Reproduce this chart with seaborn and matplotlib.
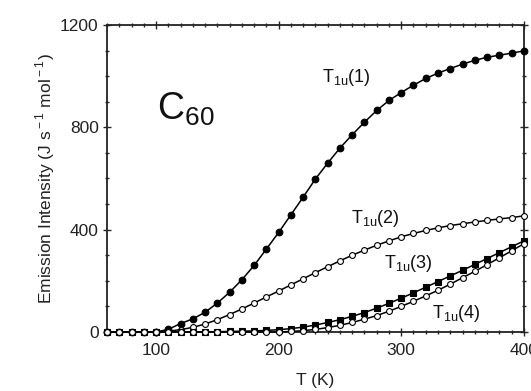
import numpy as np
import pandas as pd
import matplotlib
matplotlib.use('Agg')
import matplotlib.pyplot as plt
import seaborn as sns
from matplotlib.ticker import MultipleLocator

# temperature grid (K)
temps = list(range(60, 410, 10))

# emission intensity (J s^-1 mol^-1)
t1u_1 = [0, 0, 0, 0, 0, 10, 33, 51, 77, 113, 155, 204, 260, 324, 389, 458, 527, 598,
         660, 719, 771, 820, 866, 905, 936, 965, 991, 1012, 1030, 1047, 1062, 1074,
         1082, 1090, 1099]
t1u_2 = [0, 0, 0, 0, 0, 3, 9, 18, 31, 48, 68, 90, 113, 137, 160, 184, 208, 232,
         255, 278, 300, 320, 339, 356, 372, 385, 397, 407, 416, 423, 430, 436, 442,
         447, 454]
t1u_3 = [0, 0, 0, 0, 0, 0, 0, 0, 1, 1, 2, 3, 4, 6, 9, 13, 19, 27, 37, 48, 61, 76,
         93, 112, 132, 153, 175, 197, 219, 241, 264, 287, 310, 333, 356]
t1u_4 = [0, 0, 0, 0, 0, 0, 0, 0, 0, 0, 0, 0, 0, 0, 0, 2, 5, 10, 17, 26, 37, 50, 64,
         81, 100, 120, 141, 163, 187, 212, 237, 263, 290, 317, 345]

series_names = ['T1u(1)', 'T1u(2)', 'T1u(3)', 'T1u(4)']
series_labels = [r'T$_{\rm 1u}$(1)', r'T$_{\rm 1u}$(2)', r'T$_{\rm 1u}$(3)', r'T$_{\rm 1u}$(4)']
label_x = [235, 259, 286, 325]
label_y = [995, 444, 268, 72]

sns.set_style('ticks')
plt.rcParams['font.family'] = ['Liberation Sans', 'DejaVu Sans']
plt.rcParams['mathtext.fontset'] = 'custom'
plt.rcParams['mathtext.rm'] = 'Liberation Sans'

df = pd.DataFrame({'T': temps, 'T1u(1)': t1u_1, 'T1u(2)': t1u_2,
                   'T1u(3)': t1u_3, 'T1u(4)': t1u_4})

fig = plt.figure(figsize=(5.31, 3.91), dpi=100)
ax = fig.add_axes([0.2015, 0.151, 0.785, 0.785])

styles = {
    'T1u(1)': dict(marker='o', markersize=4.8, markerfacecolor='black'),
    'T1u(2)': dict(marker='o', markersize=4.2, markerfacecolor='white'),
    'T1u(3)': dict(marker='s', markersize=4.2, markerfacecolor='black'),
    'T1u(4)': dict(marker='o', markersize=4.2, markerfacecolor='white'),
}
for name in series_names:
    sns.lineplot(data=df, x='T', y=name, ax=ax, color='black', linewidth=1.1,
                 markeredgecolor='black', markeredgewidth=0.8, clip_on=False,
                 zorder=3, **styles[name])

for lab, lx, ly in zip(series_labels, label_x, label_y):
    ax.text(lx, ly, lab, fontsize=13, va='center', ha='left', color='#111')

ax.text(101, 870, r'C$_{\rm 60}$', fontsize=27, va='center', ha='left', color='#111')

ax.set_xlim(60, 400)
ax.set_ylim(0, 1200)
ax.xaxis.set_major_locator(MultipleLocator(100))
ax.xaxis.set_minor_locator(MultipleLocator(10))
ax.yaxis.set_major_locator(MultipleLocator(400))
ax.yaxis.set_minor_locator(MultipleLocator(100))
ax.tick_params(which='both', direction='inout', top=True, right=True,
               labelsize=12.5, labelcolor='#222', width=1)
ax.tick_params(which='major', length=6, pad=3)
ax.tick_params(axis='x', which='major', pad=5)
ax.tick_params(which='minor', length=3)
for sp in ax.spines.values():
    sp.set_linewidth(1.3)
    sp.set_color('#222')

ax.set_xlabel('T (K)', fontsize=12.5, color='#222', labelpad=11)
ax.set_ylabel(r'Emission Intensity (J s$^{\rm -1}$ mol$^{\rm -1}$)', fontsize=12.5,
              color='#222', labelpad=2)

fig.savefig('out.png', dpi=100)
